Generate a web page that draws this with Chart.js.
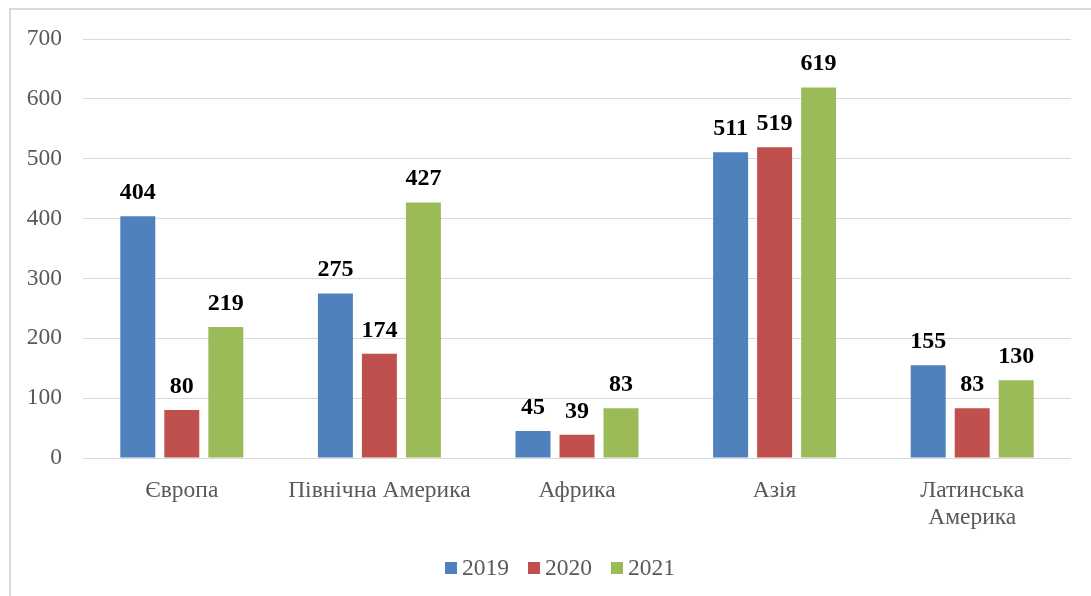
<!DOCTYPE html>
<html lang="uk">

<head>
    <meta charset="UTF-8">
    <title>Регіони 2019–2021</title>
    <script src="https://cdn.jsdelivr.net/npm/chart.js"></script>
    <style>
        html, body { margin: 0; padding: 0; background: #fff; overflow: hidden; }
        .wrap { position: relative; width: 1091px; height: 596px; }
        .frame {
            position: absolute; left: 9px; top: 8px; width: 1200px; height: 700px;
            border-left: 2px solid #d9d9d9; border-top: 2px solid #d9d9d9;
        }
        canvas { position: absolute; left: 0; top: 0; }
    </style>
</head>

<body>
    <div class="wrap">
        <div class="frame"></div>
        <canvas id="regionChart" width="1091" height="596"></canvas>
    </div>
    <script>
        // Data
        const regions = ['Європа', 'Північна Америка', 'Африка', 'Азія', ['Латинська', 'Америка']];
        const years = ['2019', '2020', '2021'];
        const values2019 = [404, 275, 45, 511, 155];
        const values2020 = [80, 174, 39, 519, 83];
        const values2021 = [219, 427, 83, 619, 130];
        const yTicks = [0, 100, 200, 300, 400, 500, 600, 700];

        const colors = ['#4F81BD', '#C0504D', '#9BBB59'];
        const serif = "'Liberation Serif', 'Times New Roman', serif";
        const textGrey = '#595959';

        // Value labels above each bar
        const valueLabels = {
            id: 'valueLabels',
            afterDatasetsDraw(chart) {
                const ctx = chart.ctx;
                ctx.save();
                ctx.font = 'bold 24px ' + serif;
                ctx.fillStyle = '#000';
                ctx.textAlign = 'center';
                ctx.textBaseline = 'alphabetic';
                chart.data.datasets.forEach((ds, i) => {
                    chart.getDatasetMeta(i).data.forEach((bar, j) => {
                        ctx.fillText(ds.data[j], bar.x, bar.y - 17);
                    });
                });
                ctx.restore();
            }
        };

        // Compact legend under the axis: small square, tight gap, then the year
        const bottomLegend = {
            id: 'bottomLegend',
            afterDraw(chart) {
                const ctx = chart.ctx;
                const box = 12, gapText = 5, gapItem = 19, cx = 560, cy = 568;
                ctx.save();
                ctx.font = '23.5px ' + serif;
                ctx.textBaseline = 'middle';
                ctx.textAlign = 'left';
                const items = chart.data.datasets.map(ds => ({
                    text: ds.label, color: ds.backgroundColor,
                    w: box + gapText + ctx.measureText(ds.label).width
                }));
                const total = items.reduce((s, it) => s + it.w, 0) + gapItem * (items.length - 1);
                let x = cx - total / 2;
                items.forEach(it => {
                    ctx.fillStyle = it.color;
                    ctx.fillRect(x, cy - box / 2, box, box);
                    ctx.fillStyle = textGrey;
                    ctx.fillText(it.text, x + box + gapText, cy + 1);
                    x += it.w + gapItem;
                });
                ctx.restore();
            }
        };

        new Chart(document.getElementById('regionChart'), {
            type: 'bar',
            data: {
                labels: regions,
                datasets: [
                    { label: years[0], data: values2019, backgroundColor: colors[0] },
                    { label: years[1], data: values2020, backgroundColor: colors[1] },
                    { label: years[2], data: values2021, backgroundColor: colors[2] }
                ]
            },
            options: {
                responsive: false,
                animation: false,
                layout: { padding: { top: 39, right: 20, bottom: 58, left: 0 } },
                datasets: {
                    bar: { categoryPercentage: 0.668, barPercentage: 0.795 }
                },
                plugins: {
                    tooltip: { enabled: false },
                    legend: { display: false }
                },
                scales: {
                    x: {
                        grid: { display: false },
                        border: { display: false },
                        ticks: {
                            font: { family: serif, size: 23.5, lineHeight: 1.15 },
                            color: textGrey,
                            padding: 11,
                            maxRotation: 0
                        },
                        afterFit(scale) { scale.height = 80; }
                    },
                    y: {
                        min: 0,
                        max: 700,
                        afterBuildTicks(scale) { scale.ticks = yTicks.map(v => ({ value: v })); },
                        grid: { color: '#d9d9d9', lineWidth: 1, drawTicks: false },
                        border: { display: false },
                        ticks: {
                            font: { family: serif, size: 23.5 },
                            color: textGrey,
                            padding: 21
                        },
                        afterFit(scale) { scale.width = 83; }
                    }
                }
            },
            plugins: [valueLabels, bottomLegend]
        });
    </script>
</body>

</html>
